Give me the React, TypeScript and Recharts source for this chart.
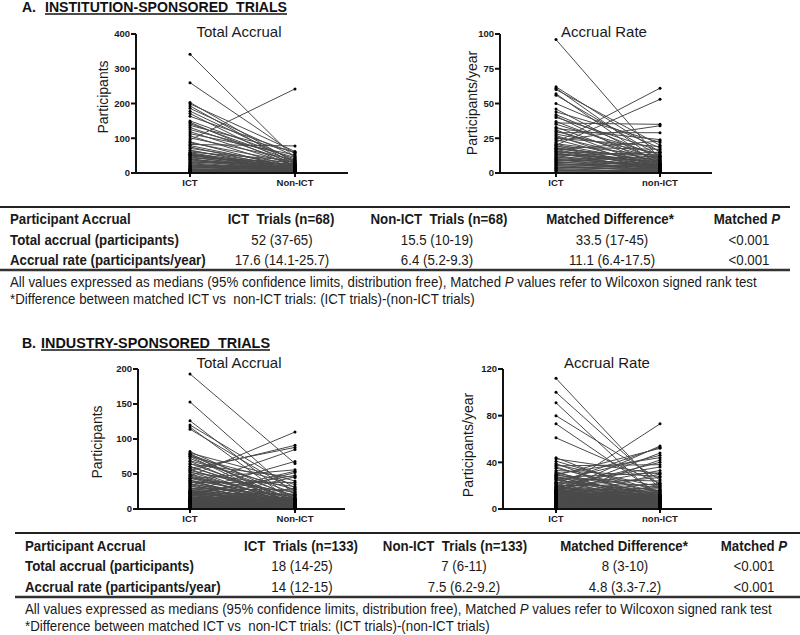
import React from 'react';
import { LineChart, Line, XAxis, YAxis } from 'recharts';

// ---------- DATA ----------
const catsTotal = ['ICT', 'Non-ICT'];
const catsRate = ['ICT', 'non-ICT'];

const aTotalTicks = [0, 100, 200, 300, 400];
const aRateTicks = [0, 25, 50, 75, 100];
const bTotalTicks = [0, 50, 100, 150, 200];
const bRateTicks = [0, 40, 80, 120];

// A. Institution-sponsored, total accrual (68 matched pairs)
const aTotalIct = [
  342, 260, 203, 199, 193, 186, 178, 171, 163, 150,
  146, 142, 137, 131, 125, 119, 113, 107, 101, 95,
  90, 87, 82, 79, 75, 71, 66, 64, 60, 58,
  56, 54, 53, 52, 51, 49, 47, 45, 43, 41,
  39, 38, 35, 33, 30, 29, 27, 24, 23, 21,
  20, 18, 17, 15, 14, 12, 11, 10, 9, 8,
  7, 6, 5, 5, 4, 3, 2, 1,
];
const aTotalNon = [
  42, 55, 30, 62, 25, 48, 35, 20, 58, 40,
  18, 33, 60, 28, 45, 22, 52, 15, 38, 242,
  12, 30, 78, 17, 10, 26, 8, 19, 36, 14,
  6, 23, 11, 16, 9, 21, 5, 13, 32, 7,
  16, 4, 18, 12, 27, 10, 3, 14, 8, 20,
  11, 6, 15, 9, 24, 5, 13, 7, 2, 16,
  4, 10, 3, 8, 1, 6, 2, 3,
];

// A. Institution-sponsored, accrual rate
const aRateIct = [
  96, 62, 61, 60, 57, 56, 50, 46, 44, 42,
  41, 40, 37, 36, 35, 33, 32, 31, 30, 29,
  28, 27, 26, 25, 24, 23, 22, 21, 20.5, 20,
  19.6, 18.8, 18.1, 17.8, 17.4, 16.9, 16.6, 15.8, 15.4, 15.1,
  14.6, 13.9, 13.6, 13.1, 12.4, 12.2, 11.6, 11.1, 10.4, 10.1,
  9.7, 9.1, 8.4, 8.1, 7.6, 6.9, 6.6, 6.1, 5.4, 5.1,
  4.4, 4.1, 3.4, 3.1, 2.6, 1.9, 1.6, 0.9,
];
const aRateNon = [
  10, 15, 8, 20, 5, 12, 18, 7, 22, 11,
  4, 16, 9, 35, 13, 6, 24, 3, 10, 29,
  14, 2, 8, 19, 5, 34, 61, 12, 7, 53,
  4, 17, 9, 6, 11, 3, 23, 7, 5, 13,
  2, 8, 6, 10, 4, 15, 3, 9, 6, 1,
  6, 5, 12, 3, 6, 2, 5, 4, 1, 5,
  3, 2, 6, 1, 4, 0.5, 2, 1,
];

// B. Industry-sponsored, total accrual (133 matched pairs)
const bTotalIct = [
  193, 153, 126, 120, 117, 114, 82, 80, 79, 78,
  77, 75, 75, 72, 69, 68, 65, 64, 61, 60,
  58, 57, 55, 55, 53, 52, 50, 49, 47, 47,
  46, 44, 44, 43, 41, 41, 39, 39, 38, 36,
  36, 35, 33, 33, 32, 30, 30, 29, 28, 27,
  26, 26, 25, 25, 24, 24, 23, 23, 22, 22,
  21, 21, 20, 20, 19, 19, 18, 17, 17, 16,
  16, 16, 15, 15, 15, 14, 14, 14, 13, 13,
  13, 12, 12, 12, 12, 11, 11, 11, 11, 10,
  10, 10, 10, 9, 9, 9, 9, 8, 8, 8,
  8, 7, 7, 7, 7, 6, 6, 6, 6, 6,
  5, 5, 5, 5, 5, 4, 4, 4, 4, 4,
  3, 3, 3, 3, 2, 2, 2, 2, 1, 1,
  1, 1, 0,
];
const bTotalNon = [
  65, 20, 12, 30, 8, 25, 15, 40, 5, 22,
  10, 35, 3, 18, 28, 6, 12, 45, 9, 15,
  88, 4, 20, 91, 7, 32, 11, 2, 110, 14,
  6, 24, 9, 56, 3, 17, 10, 5, 38, 8,
  13, 2, 85, 6, 19, 11, 4, 27, 9, 1,
  15, 5, 68, 8, 12, 3, 21, 6, 10, 48,
  4, 14, 7, 2, 9, 54, 5, 12, 3, 16,
  6, 1, 10, 8, 4, 11, 2, 52, 7, 5,
  9, 3, 13, 6, 1, 8, 4, 46, 2, 10,
  5, 7, 3, 11, 1, 6, 4, 9, 2, 30,
  5, 8, 3, 6, 1, 12, 4, 2, 7, 5,
  3, 9, 1, 6, 4, 2, 8, 5, 3, 1,
  6, 2, 4, 0, 3, 1, 5, 2, 4, 1,
  3, 0, 2,
];

// B. Industry-sponsored, accrual rate
const bRateIct = [
  112, 100, 91, 80, 73, 61, 44, 43, 41, 39,
  38, 37, 36, 35, 33, 32, 31, 30, 30, 29,
  29, 28, 27, 27, 26, 26, 25, 25, 24, 23,
  23, 22, 22, 21, 21, 20, 20, 19, 19, 19,
  18, 18, 18, 17, 17, 17, 16, 16, 16, 16,
  15, 15, 15, 15, 15, 14.8, 14.5, 14.5, 14.3, 14.2,
  14.1, 14, 14, 14, 14, 13.9, 13.7, 13.5, 13.2, 12.9,
  12.6, 12.4, 12, 12, 11.7, 11.5, 11.2, 11, 10.8, 10.5,
  10.2, 10, 10, 9.6, 9.4, 9, 9, 8.7, 8.5, 8.1,
  8, 7.8, 7.5, 7.2, 7, 7, 6.6, 6.4, 6, 6,
  5.7, 5.5, 5.2, 5, 4.8, 4.5, 4.2, 4, 3.8, 3.5,
  3.3, 3, 3, 2.8, 2.6, 2.5, 2.4, 2.2, 2, 2,
  1.8, 1.6, 1.5, 1.2, 1, 0.9, 0.7, 0.5, 0.4, 0.3,
  0.2, 0.1, 0,
];
const bRateNon = [
  17, 20, 8, 25, 12, 22, 10, 30, 15, 5,
  19, 38, 9, 14, 28, 4, 12, 44, 7, 18,
  52, 6, 11, 31, 3, 24, 13, 9, 46, 8,
  16, 2, 53, 10, 36, 5, 21, 12, 7, 27,
  9, 15, 40, 4, 11, 33, 6, 14, 8, 3,
  73, 10, 5, 18, 7, 12, 2, 54, 9, 6,
  13, 4, 8, 11, 48, 6, 3, 10, 7, 22,
  5, 9, 2, 16, 6, 42, 8, 4, 12, 3,
  7, 10, 5, 1, 9, 30, 6, 4, 11, 3,
  8, 2, 6, 20, 5, 7, 1, 9, 4, 6,
  3, 8, 2, 5, 7, 1, 4, 6, 3, 2,
  5, 1, 4, 3, 6, 2, 1, 3, 2, 4,
  1, 3, 2, 0.5, 1, 2, 0.5, 1, 0.3, 0.8,
  0.5, 1, 0.2,
];

// Tables
const tableAHeader = ['Participant Accrual', 'ICT  Trials (n=68)', 'Non-ICT  Trials (n=68)', 'Matched Difference*'];
const tableARows = [
  ['Total accrual (participants)', '52 (37-65)', '15.5 (10-19)', '33.5 (17-45)', '<0.001'],
  ['Accrual rate (participants/year)', '17.6 (14.1-25.7)', '6.4 (5.2-9.3)', '11.1 (6.4-17.5)', '<0.001'],
];
const tableBHeader = ['Participant Accrual', 'ICT  Trials (n=133)', 'Non-ICT  Trials (n=133)', 'Matched Difference*'];
const tableBRows = [
  ['Total accrual (participants)', '18 (14-25)', '7 (6-11)', '8 (3-10)', '<0.001'],
  ['Accrual rate (participants/year)', '14 (12-15)', '7.5 (6.2-9.2)', '4.8 (3.3-7.2)', '<0.001'],
];
const footnoteParts = ['All values expressed as medians (95% confidence limits, distribution free), Matched ', 'P', ' values refer to Wilcoxon signed rank test'];
const footnote2 = '*Difference between matched ICT vs  non-ICT trials: (ICT trials)-(non-ICT trials)';

// ---------- STYLE ----------
const SANS = "'Liberation Sans', Arial, Helvetica, sans-serif";
const SX = 0.95; // slight horizontal condensation to mimic the narrow table font

type ChartProps = {
  ict: number[]; non: number[]; cats: string[]; ticks: number[];
  axisX: number; top: number; bottom: number; right: number; ictX: number; nonX: number;
};

function PairedChart({ ict, non, cats, ticks, axisX, top, bottom, right, ictX, nonX }: ChartProps) {
  const row0: Record<string, any> = { cat: cats[0] };
  const row1: Record<string, any> = { cat: cats[1] };
  ict.forEach((v, i) => { row0['p' + i] = v; });
  non.forEach((v, i) => { row1['p' + i] = v; });
  const data = [row0, row1];
  const yW = 40, mTop = 10, mRight = 6, xH = 24;
  const left = axisX - yW;
  const width = right + mRight - left;
  const height = bottom - top + mTop + xH;
  const tickStyle = { fontSize: 9.5, fontWeight: 700, fill: '#1a1a1a', fontFamily: SANS };
  return (
    <div style={{ position: 'absolute', left, top: top - mTop }}>
      <LineChart width={width} height={height} data={data} margin={{ top: mTop, right: mRight, left: 0, bottom: 0 }}>
        <XAxis dataKey="cat" type="category" height={xH} interval={0}
          padding={{ left: ictX - axisX, right: right - nonX }}
          axisLine={{ stroke: '#111', strokeWidth: 2 }} tickLine={{ stroke: '#111', strokeWidth: 2 }}
          tickSize={4} tick={tickStyle} />
        <YAxis type="number" domain={[0, ticks[ticks.length - 1]]} ticks={ticks} width={yW} interval={0}
          axisLine={{ stroke: '#111', strokeWidth: 2 }} tickLine={{ stroke: '#111', strokeWidth: 2 }}
          tickSize={5} tickMargin={1} tick={tickStyle} />
        {ict.map((_, i) => (
          <Line key={i} dataKey={'p' + i} stroke="#4a4a4a" strokeWidth={1}
            dot={{ r: 1.5, fill: '#000', stroke: 'none' }} activeDot={false} isAnimationActive={false} />
        ))}
      </LineChart>
    </div>
  );
}

function NText({ x, y, anchor = 'start', bold = false, children }: { x: number; y: number; anchor?: 'start' | 'middle' | 'end'; bold?: boolean; children: React.ReactNode }) {
  return (
    <text transform={`translate(${x},${y}) scale(${SX},1)`} textAnchor={anchor} fontWeight={bold ? 700 : 400}
      style={{ whiteSpace: 'pre' }}>{children}</text>
  );
}

type TableProps = {
  header: string[]; rows: string[][]; x0: number; x1: number; labelX: number;
  headCols: number[]; valCols: number[]; pCol: number;
  lineTop: number; base: number[]; lineBottom: number; foot: number[];
};

function TableSvg({ header, rows, x0, x1, labelX, headCols, valCols, pCol, lineTop, base, lineBottom, foot }: TableProps) {
  return (
    <g fontFamily={SANS} fontSize={14} fill="#1a1a1a">
      <line x1={x0} x2={x1} y1={lineTop} y2={lineTop} stroke="#222" strokeWidth={2} />
      <NText x={labelX} y={base[0]} bold>{header[0]}</NText>
      {header.slice(1).map((h, i) => (
        <NText key={i} x={headCols[i]} y={base[0]} anchor="middle" bold>{h}</NText>
      ))}
      <NText x={pCol} y={base[0]} anchor="middle" bold>Matched <tspan fontStyle="italic">P</tspan></NText>
      {rows.map((r, ri) => (
        <g key={ri}>
          <NText x={labelX} y={base[ri + 1]} bold>{r[0]}</NText>
          {r.slice(1).map((v, ci) => (
            <NText key={ci} x={valCols[ci]} y={base[ri + 1]} anchor="middle">{v}</NText>
          ))}
        </g>
      ))}
      <line x1={x0} x2={x1} y1={lineBottom} y2={lineBottom} stroke="#333" strokeWidth={2.5} />
      <NText x={labelX} y={foot[0]}>
        {footnoteParts[0]}<tspan fontStyle="italic">{footnoteParts[1]}</tspan>{footnoteParts[2]}
      </NText>
      <NText x={labelX} y={foot[1]}>{footnote2}</NText>
    </g>
  );
}

function SectionTitle({ x, y, prefix, text, ulStart, ulEnd }: { x: number; y: number; prefix: string; text: string; ulStart: number; ulEnd: number }) {
  return (
    <g fontFamily={SANS} fontWeight={700} fontSize={14} fill="#111">
      <text x={x} y={y}>{prefix}</text>
      <text x={ulStart} y={y} textLength={ulEnd - ulStart} lengthAdjust="spacingAndGlyphs" style={{ whiteSpace: 'pre' }}>{text}</text>
      <line x1={ulStart} x2={ulEnd} y1={y + 2} y2={y + 2} stroke="#111" strokeWidth={1.3} />
    </g>
  );
}

function YLabel({ x, y, text }: { x: number; y: number; text: string }) {
  return (
    <text transform={`translate(${x},${y}) rotate(-90)`} textAnchor="middle" dominantBaseline="central"
      fontFamily={SANS} fontSize={14} fill="#1a1a1a">{text}</text>
  );
}

function PlotTitle({ x, y, text }: { x: number; y: number; text: string }) {
  return <text x={x} y={y} textAnchor="middle" fontFamily={SANS} fontSize={15} fill="#1a1a1a">{text}</text>;
}

export default function App() {
  return (
    <div style={{ position: 'absolute', left: 0, top: 0, width: 800, height: 635, background: '#fff', overflow: 'hidden' }}>
      <svg width={800} height={635} style={{ position: 'absolute', left: 0, top: 0 }}>
        <SectionTitle x={22} y={12} prefix="A." text="INSTITUTION-SPONSORED  TRIALS" ulStart={45} ulEnd={287} />
        <SectionTitle x={22} y={348} prefix="B." text="INDUSTRY-SPONSORED  TRIALS" ulStart={41} ulEnd={270} />
        <PlotTitle x={239} y={37} text="Total Accrual" />
        <PlotTitle x={604} y={37} text="Accrual Rate" />
        <PlotTitle x={239} y={368} text="Total Accrual" />
        <PlotTitle x={607} y={368} text="Accrual Rate" />
        <YLabel x={103} y={97} text="Participants" />
        <YLabel x={472} y={103} text="Participants/year" />
        <YLabel x={97} y={442} text="Participants" />
        <YLabel x={468} y={445} text="Participants/year" />
        <TableSvg header={tableAHeader} rows={tableARows} x0={0} x1={790} labelX={10}
          headCols={[281, 439, 610]} valCols={[282, 437, 612, 749]} pCol={747}
          lineTop={207} base={[224, 245, 265]} lineBottom={270} foot={[287, 304]} />
        <TableSvg header={tableBHeader} rows={tableBRows} x0={15} x1={800} labelX={25}
          headCols={[301, 455, 624]} valCols={[302, 464, 625, 754]} pCol={754}
          lineTop={533} base={[551, 571, 592]} lineBottom={597} foot={[614, 631]} />
      </svg>
      <PairedChart ict={aTotalIct} non={aTotalNon} cats={catsTotal} ticks={aTotalTicks}
        axisX={136} top={34} bottom={173} right={348} ictX={190} nonX={295} />
      <PairedChart ict={aRateIct} non={aRateNon} cats={catsRate} ticks={aRateTicks}
        axisX={500} top={34} bottom={173} right={712} ictX={556} nonX={660} />
      <PairedChart ict={bTotalIct} non={bTotalNon} cats={catsTotal} ticks={bTotalTicks}
        axisX={138} top={369} bottom={509} right={345} ictX={190} nonX={295} />
      <PairedChart ict={bRateIct} non={bRateNon} cats={catsRate} ticks={bRateTicks}
        axisX={503} top={369} bottom={509} right={712} ictX={556} nonX={660} />
    </div>
  );
}
